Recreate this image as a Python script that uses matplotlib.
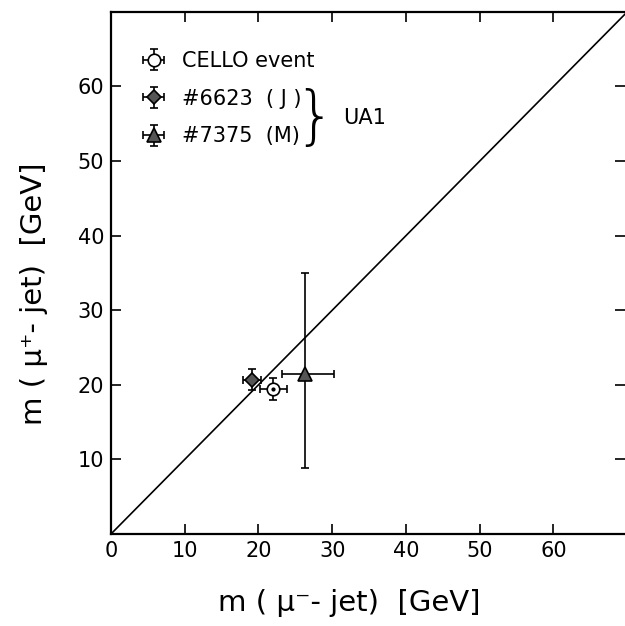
import matplotlib
matplotlib.use("Agg")
import matplotlib.pyplot as plt

# events: m(mu- jet), m(mu+ jet) in GeV, with errors
names = ["CELLO event", "#6623  ( J )", "#7375  (M)"]
x_val = [22.0, 19.1, 26.3]
y_val = [19.4, 20.7, 21.5]
x_lo = [1.8, 1.2, 3.1]
x_hi = [1.8, 1.2, 4.0]
y_lo = [1.5, 1.4, 12.6]
y_hi = [1.5, 1.4, 13.5]
markers = ["o", "D", "^"]
faces = ["white", "#555555", "#555555"]
sizes = [9, 7, 10]

ticks = [0, 10, 20, 30, 40, 50, 60]
diag = [0, 80]

plt.rcParams["font.family"] = "DejaVu Sans"
fig = plt.figure(figsize=(6.25, 6.26), dpi=100)
ax = fig.add_axes([0.1776, 0.147, 0.8224, 0.834])

ax.plot(diag, diag, color="black", lw=1.2, zorder=1)

handles = []
for i in range(len(names)):
    h = ax.errorbar([x_val[i]], [y_val[i]],
                    xerr=[[x_lo[i]], [x_hi[i]]], yerr=[[y_lo[i]], [y_hi[i]]],
                    fmt=markers[i], mfc=faces[i], mec="black", mew=1.2,
                    ms=sizes[i], ecolor="black", elinewidth=1.2, capsize=3,
                    color="black", label=names[i], zorder=3)
    handles.append(h)
# dot in the middle of the CELLO circle
ax.plot([x_val[0]], [y_val[0]], "o", color="black", ms=2, zorder=4)

ax.set_xlim(0, 69.7)
ax.set_ylim(0, 70.0)
ax.set_xticks(ticks)
ax.set_yticks(ticks[1:])
ax.set_xticklabels([str(t) for t in ticks], fontsize=15)
ax.set_yticklabels([str(t) for t in ticks[1:]], fontsize=15)
ax.tick_params(direction="in", length=7, width=1.2, top=True, right=True, pad=5)
for s in ["left", "bottom", "top"]:
    ax.spines[s].set_linewidth(1.6)
ax.spines["right"].set_visible(False)

ax.set_xlabel("m ( μ⁻- jet)  [GeV]", fontsize=21, va="center")
ax.xaxis.set_label_coords(0.463, -0.132)
ax.set_ylabel("m ( μ⁺- jet)  [GeV]", fontsize=21, va="center")
ax.yaxis.set_label_coords(-0.15, 0.46)

leg = ax.legend(handles=handles, loc="upper left", frameon=False, fontsize=15,
                handlelength=1.5, handletextpad=0.6, labelspacing=0.85,
                bbox_to_anchor=(0.012, 0.965), borderaxespad=0.6)

ax.text(0.396, 0.795, "}", transform=ax.transAxes, fontsize=46,
        ha="center", va="center", fontweight="light")
ax.text(0.452, 0.797, "UA1", transform=ax.transAxes, fontsize=15,
        ha="left", va="center")

fig.savefig("out.png", dpi=100)
